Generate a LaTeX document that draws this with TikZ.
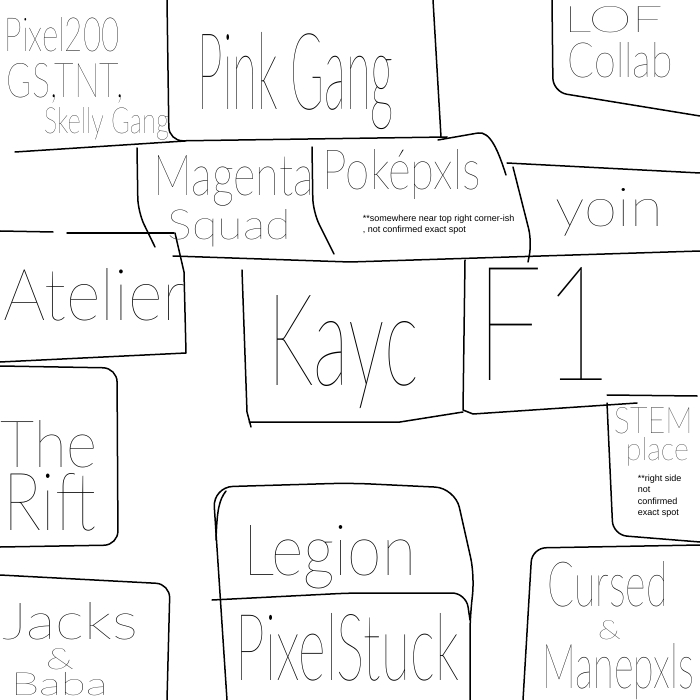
\documentclass[tikz,border=0pt]{standalone}
\usepackage{fontspec}
\usepackage{graphicx}
\setmainfont{Liberation Sans}
\IfFontExistsTF{Lato Thin}{\newfontfamily\hand{Lato Thin}}{%
  \IfFontExistsTF{Lato Light}{\newfontfamily\hand{Lato Light}}{\newfontfamily\hand{Lato}}}
\newcommand{\hw}[3]{\resizebox{#1pt}{#2pt}{\hand #3}}

\begin{document}
\begin{tikzpicture}[
    x=1pt, y=-1pt, line width=1.5pt, line cap=round, line join=round,
    wall/.style={draw=black, rounded corners=14pt},   % region borders
    gang/.style={inner sep=0pt, anchor=base west},    % handwritten names
    remark/.style={inner sep=0pt, anchor=north west, align=left,
        font=\fontsize{9}{11.5}\selectfont}
]
    \useasboundingbox (0,0) rectangle (700,700);

    % --- TOP ROW ---
    \draw (15,152) -- (185,141);
    \draw[wall] (167,0) -- (169,141) -- (447,137);
    \draw (433,0) -- (441,137);
    \draw[wall] (552,0) -- (553,92) -- (700,116);

    \node[gang] (PixelZoo) at (4,52) {\hw{115}{34}{Pixel200}};
    \node[gang] (GsTnt) at (6,98) {\hw{117}{34}{GS,TNT,}};
    \node[gang] (SkellyGang) at (43,134) {\hw{125}{26}{Skelly Gang}};
    \node[gang] (PinkGang) at (197,110) {\hw{196}{77}{Pink Gang}};
    \node[gang] (LofTop) at (563,33) {\hw{99}{26}{LOF}};
    \node[gang] (LofBottom) at (567,78) {\hw{105}{35}{Collab}};

    % --- SECOND ROW ---
    \draw[wall] (137,148) -- (138,212) -- (155,247);
    \draw[wall] (312,147) -- (313,212) -- (334,254);
    \draw (438,140) -- (478,133) .. controls (490,131) and (498,150) .. (506,175);
    \draw[wall] (513,167) -- (532,242) -- (528,262);
    \draw (507,163) -- (700,173);
    \draw (173,256) -- (350,262) -- (700,251);

    \node[gang] (Magenta) at (153,196) {\hw{160}{40}{Magenta}};
    \node[gang] (Squad) at (167,240) {\hw{123}{30}{Squad}};
    \node[gang] (Pokepxls) at (322,190) {\hw{158}{40}{Poképxls}};
    \node[remark] (PokeNote) at (362,214)
        {**somewhere near top right corner-ish\\, not confirmed exact spot};
    \node[gang] (Yoin) at (555,227) {\hw{107}{38}{yoin}};

    % --- MIDDLE ---
    \draw (0,231) -- (53,232);
    \draw (67,233) -- (174,233);
    \draw (175,233) -- (184,272) -- (186,353) -- (0,362);
    \draw (242,270) -- (247,412) -- (251,427);
    \draw (249,422) -- (400,422) -- (463,412);
    \draw (465,260) -- (463,410) -- (473,414) -- (637,403);

    \node[gang] (Atelier) at (3,320) {\hw{182}{52}{Atelier}};
    \node[gang] (Kayc) at (268,385) {\hw{150}{90}{Kayc}};
    \node[gang] (FOne) at (475,380) {\hw{137}{113}{F1}};

    % --- RIGHT SIDE ---
    \draw (607,395) -- (697,396);
    \draw[wall] (607,403) -- (613,535) -- (700,542);
    \node[gang] (Stem) at (613,433) {\hw{79}{26}{STEM}};
    \node[gang] (Place) at (625,460) {\hw{63}{23}{place}};
    \node[remark] (StemNote) at (637,474) {**right side\\not\\confirmed\\exact spot};

    % --- LEFT SIDE ---
    \draw[wall] (0,366) -- (117,368) -- (118,545) -- (0,547);
    \node[gang] (The) at (0,467) {\hw{97}{47}{The}};
    \node[gang] (Rift) at (3,530) {\hw{92}{57}{Rift}};

    % --- BOTTOM ROW ---
    \draw[wall] (0,575) -- (170,584) -- (167,700);
    \draw[rounded corners=20pt] (227,700) -- (213,487) -- (350,483) -- (455,488)
        -- (475,577) -- (470,613) -- (470,700);
    \draw (226,491) .. controls (219,500) and (217,510) .. (216,540);
    \draw[wall] (212,600) -- (350,593) -- (466,593) -- (470,620);
    \draw[wall] (523,700) -- (532,548) -- (700,545);

    \node[gang] (Jacks) at (2,639) {\hw{135}{37}{Jacks}};
    \node[gang] (JacksAnd) at (45,669) {\hw{28}{21}{\&}};
    \node[gang] (Baba) at (10,695) {\hw{97}{23}{Baba}};
    \node[gang] (Legion) at (243,575) {\hw{172}{50}{Legion}};
    \node[gang] (PixelStuck) at (235,680) {\hw{223}{67}{PixelStuck}};
    \node[gang] (Cursed) at (547,606) {\hw{120}{45}{Cursed}};
    \node[gang] (CursedAnd) at (597,639) {\hw{23}{19}{\&}};
    \node[gang] (Manepxls) at (542,688) {\hw{151}{45}{Manepxls}};

\end{tikzpicture}
\end{document}
